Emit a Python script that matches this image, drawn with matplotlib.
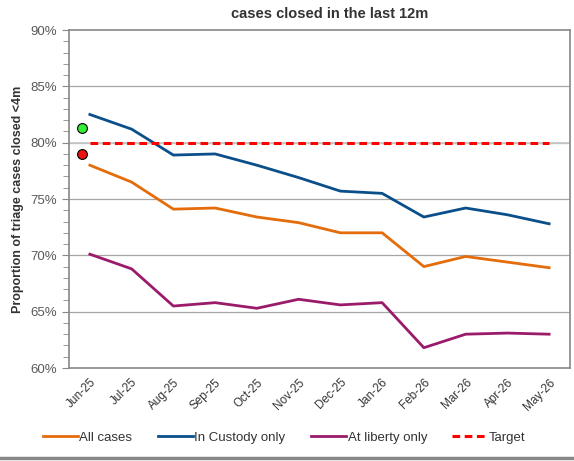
import matplotlib.pyplot as plt
from matplotlib.lines import Line2D
from matplotlib.ticker import MultipleLocator, FuncFormatter

months = ["Jun-25", "Jul-25", "Aug-25", "Sep-25", "Oct-25", "Nov-25",
          "Dec-25", "Jan-26", "Feb-26", "Mar-26", "Apr-26", "May-26"]
all_cases = [78.0, 76.5, 74.1, 74.2, 73.4, 72.9, 72.0, 72.0, 69.0, 69.9, 69.4, 68.9]
in_custody = [82.5, 81.2, 78.9, 79.0, 78.0, 76.9, 75.7, 75.5, 73.4, 74.2, 73.6, 72.8]
at_liberty = [70.1, 68.8, 65.5, 65.8, 65.3, 66.1, 65.6, 65.8, 61.8, 63.0, 63.1, 63.0]
target = [80.0] * 12
status_green = 81.3
status_red = 79.0

plt.rcParams['font.family'] = ['Liberation Sans', 'DejaVu Sans']
grey = '#595959'

fig = plt.figure(figsize=(5.74, 4.61), dpi=100)
ax = fig.add_axes([69 / 574, 1 - 368 / 461, 501 / 574, 338 / 461])

x = list(range(len(months)))
for y in [65, 70, 75, 80, 85]:
    ax.axhline(y, color='#a6a6a6', lw=0.9, zorder=0)
ax.axhline(80, color='#c8c8c8', lw=1.2, zorder=0)

ax.plot(x, all_cases, color='#e46c0a', lw=2, label='All cases')
ax.plot(x, in_custody, color='#0b4f8a', lw=2, label='In Custody only')
ax.plot(x, at_liberty, color='#9b1b6b', lw=2, label='At liberty only')
ax.plot(x, target, color='#ff0000', lw=2.2, ls=(0, (2.5, 1.5)), label='Target')

ax.scatter([-0.2], [status_green], s=50, color='#33ee33', edgecolor='black', lw=0.8, zorder=5, clip_on=False)
ax.scatter([-0.2], [status_red], s=50, color='#ee1111', edgecolor='black', lw=0.8, zorder=5, clip_on=False)

ax.set_xlim(-0.5, 11.5)
ax.set_ylim(60, 90)
ax.yaxis.set_major_locator(MultipleLocator(5))
ax.yaxis.set_minor_locator(MultipleLocator(1))
ax.yaxis.set_major_formatter(FuncFormatter(lambda v, p: "%d%%" % v))
ax.tick_params(axis='y', which='both', direction='out', colors='#888888', labelcolor=grey, labelsize=9.5)
ax.tick_params(axis='y', which='major', length=5)
ax.tick_params(axis='y', which='minor', length=4)
ax.set_xticks(x)
ax.set_xticklabels(months, rotation=45, ha='right', rotation_mode='anchor', fontsize=8.5, color='#333333')
ax.tick_params(axis='x', length=0, pad=6)
for s in ax.spines.values():
    s.set_color('#888888')
    s.set_linewidth(1.2)

ax.set_ylabel("Proportion of triage cases closed <4m", fontsize=9, fontweight='bold', color='#333333', labelpad=5)
fig.text(0.575, 0.985, "cases closed in the last 12m", ha='center', va='top',
         fontsize=10.5, fontweight='bold', color='#333333')

fig.legend(loc='center', bbox_to_anchor=(0.495, 0.05), ncol=4, frameon=False,
           fontsize=9.5, handlelength=2.7, handletextpad=0.1, columnspacing=1.9, labelcolor='#333333')

fig.add_artist(Line2D([0, 1], [3 / 461, 3 / 461], color='#888888', lw=2.5))

fig.savefig("out.png", dpi=100)
